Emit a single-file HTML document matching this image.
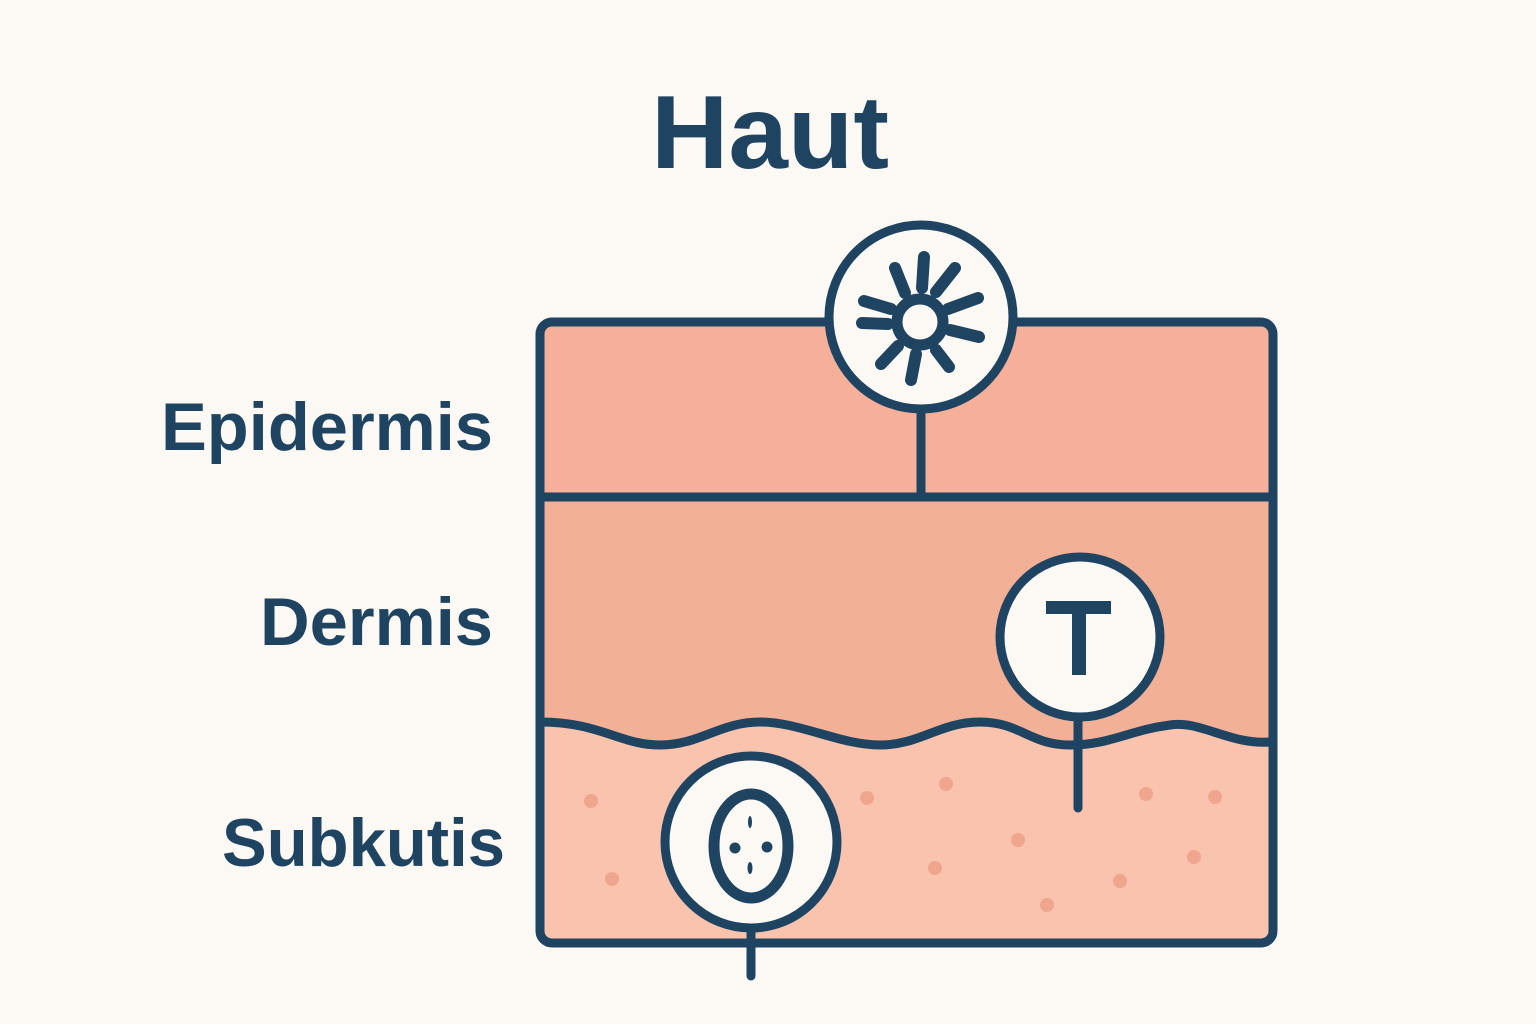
<!DOCTYPE html>
<html><head><style>
html,body{margin:0;padding:0;background:#fcf8f4;}
svg{display:block}
text{font-family:"Liberation Sans",sans-serif;font-weight:bold;fill:#1f4462}
</style></head><body>
<svg width="1536" height="1024" viewBox="0 0 1536 1024" xmlns="http://www.w3.org/2000/svg">
<rect width="1536" height="1024" fill="#fcf8f4"/>
<text x="770" y="168" font-size="104" text-anchor="middle" textLength="238" lengthAdjust="spacingAndGlyphs">Haut</text>
<text x="493" y="450" font-size="68" text-anchor="end" textLength="332" lengthAdjust="spacingAndGlyphs">Epidermis</text>
<text x="493" y="645" font-size="68" text-anchor="end" textLength="233" lengthAdjust="spacingAndGlyphs">Dermis</text>
<text x="505" y="866" font-size="68" text-anchor="end" textLength="283" lengthAdjust="spacingAndGlyphs">Subkutis</text>
<defs><clipPath id="box"><rect x="540" y="322" width="733" height="621" rx="12"/></clipPath></defs>
<g clip-path="url(#box)">
<rect x="540" y="322" width="733" height="621" fill="#fac3ae"/>
<rect x="540" y="322" width="733" height="175" fill="#f6b09a"/>
<path d="M540 497 H1273 V742 C1230 745 1200 720 1170 725 C1130 730 1110 745 1070 745 C1030 745 1020 722 980 722 C940 722 920 745 880 745 C840 745 800 722 760 722 C720 722 700 745 660 745 C620 745 600 722 540 722 Z" fill="#f2b096"/>
<g fill="#f0a58e">
<circle cx="591" cy="801" r="7"/><circle cx="612" cy="879" r="7"/><circle cx="867" cy="798" r="7"/>
<circle cx="946" cy="784" r="7"/><circle cx="935" cy="868" r="7"/><circle cx="1018" cy="840" r="7"/>
<circle cx="1047" cy="905" r="7"/><circle cx="1120" cy="881" r="7"/><circle cx="1146" cy="794" r="7"/>
<circle cx="1215" cy="797" r="7"/><circle cx="1194" cy="857" r="7"/>
</g>
</g>
<g fill="none" stroke="#1f4462" stroke-width="9" stroke-linecap="round">
<rect x="540" y="322" width="733" height="621" rx="12"/>
<line x1="540" y1="497" x2="1273" y2="497"/>
<path d="M540 722 C600 722 620 745 660 745 C700 745 720 722 760 722 C800 722 840 745 880 745 C920 745 940 722 980 722 C1020 722 1030 745 1070 745 C1110 745 1130 730 1170 725 C1200 720 1230 745 1270 742"/>
<line x1="921" y1="410" x2="921" y2="497"/>
<line x1="1078" y1="717" x2="1078" y2="808"/>
<line x1="751" y1="928" x2="751" y2="976"/>
</g>
<g stroke="#1f4462" stroke-width="9" fill="#fcf8f4">
<circle cx="921" cy="317" r="92"/>
<circle cx="1080" cy="637" r="80"/>
<circle cx="751" cy="842" r="86"/>
</g>
<g stroke="#1f4462" stroke-width="12" stroke-linecap="round" fill="none">
<line x1="922" y1="288" x2="924" y2="257"/>
<line x1="936" y1="292" x2="955" y2="268"/>
<line x1="948" y1="309" x2="978" y2="298"/>
<line x1="950" y1="330" x2="979" y2="337"/>
<line x1="936" y1="350" x2="949" y2="367"/>
<line x1="916" y1="354" x2="911" y2="380"/>
<line x1="898" y1="346" x2="881" y2="364"/>
<line x1="888" y1="324" x2="862" y2="323"/>
<line x1="891" y1="309" x2="864" y2="301"/>
<line x1="905" y1="293" x2="895" y2="268"/>
</g>
<circle cx="920" cy="322" r="23" fill="#fcf8f4" stroke="#1f4462" stroke-width="11"/>
<g fill="#1f4462">
<rect x="1046" y="601" width="65" height="13"/>
<rect x="1072" y="601" width="14" height="74"/>
</g>
<ellipse cx="751" cy="846" rx="37" ry="52" fill="none" stroke="#1f4462" stroke-width="11"/>
<g fill="#1f4462">
<circle cx="735" cy="848" r="5.5"/><circle cx="767" cy="847" r="5.5"/>
<ellipse cx="750" cy="822" rx="2" ry="6"/><ellipse cx="750" cy="868" rx="2.5" ry="6"/>
</g>
</svg>
</body></html>
